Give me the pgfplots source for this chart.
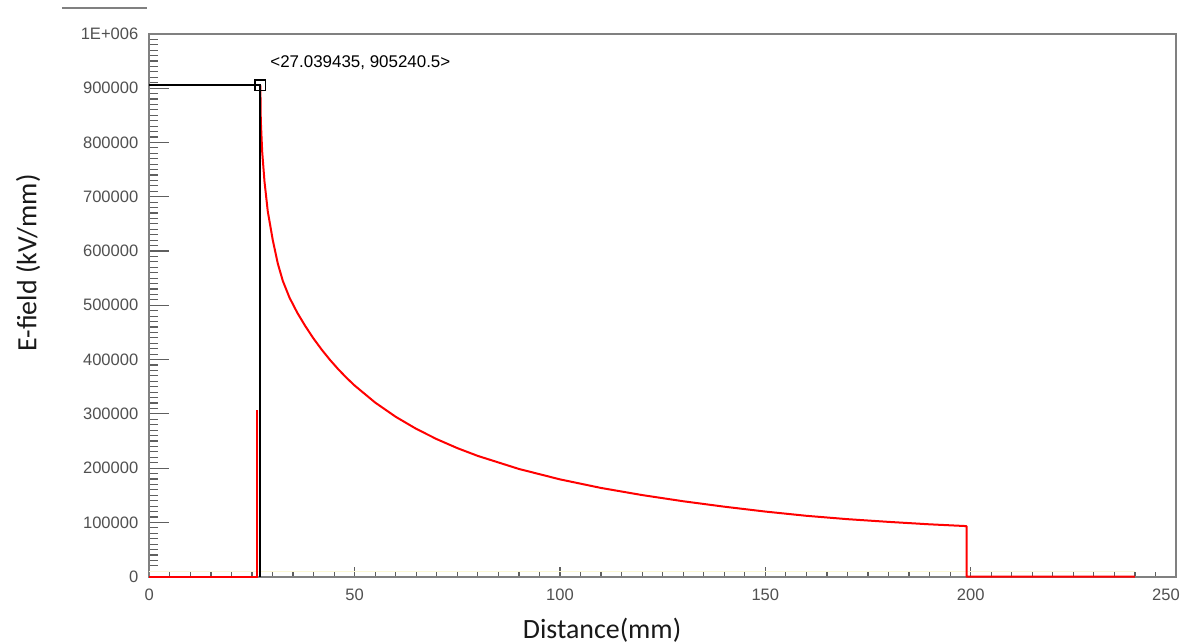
\documentclass[border=0pt]{standalone}
\usepackage{fontspec}
\setmainfont{Liberation Sans}
\newfontfamily\labelfont{Carlito}
\usepackage{pgfplots}
\pgfplotsset{compat=1.18}

\definecolor{framegray}{RGB}{128,128,128}
\definecolor{tickgray}{RGB}{95,95,95}
\definecolor{ticktext}{RGB}{80,80,80}
\definecolor{fieldred}{RGB}{255,0,0}
\definecolor{faintyellow}{RGB}{252,248,212}

% E-field profile along the distance axis
\pgfplotstableread{
x        y
27.04    905240
27.15    840000
27.49    783000
28.05    728000
28.85    673000
30.07    620000
31.29    577000
32.51    545000
34.15    514000
36.00    486800
38.00    461500
40.00    438700
42.00    418100
44.00    399400
46.00    382300
48.00    366600
50.00    352200
55.00    320800
60.00    294600
65.00    272400
70.00    253400
75.00    236900
80.00    222500
90.00    198500
100.00   179300
110.00   163500
120.00   150400
130.00   139000
140.00   129000
150.00   120000
160.00   112200
170.00   106000
180.00   101000
190.00   96500
199.00   93200
199.00   0
240.00   0
}\fieldcurve

\pgfplotstableread{
x       y
0       0
26.2    0
26.2    308000
}\fieldspike

\begin{document}
\begin{tikzpicture}
\begin{axis}[
  scale only axis,
  width=513.35bp, height=271.4bp,
  xmin=0, xmax=250, ymin=0, ymax=1000000,
  scaled x ticks=false, scaled y ticks=false,
  clip=false,
  axis line style={framegray, line width=0.9bp},
  tick align=inside,
  xtick pos=bottom, ytick pos=left,
  xtick={0,50,100,150,200,250},
  xticklabels={0,50,100,150,200,\kern-10bp 250},
  ytick={0,100000,200000,300000,400000,500000,600000,700000,800000,900000,1000000},
  yticklabels={0,100000,200000,300000,400000,500000,600000,700000,800000,900000,1E+006},
  minor x tick num=9, minor y tick num=9,
  tick style={tickgray, line width=0.6bp},
  x tick style={/pgfplots/major tick length=5bp, /pgfplots/minor tick length=2.5bp},
  y tick style={/pgfplots/major tick length=10bp, /pgfplots/minor tick length=4.5bp},
  ticklabel style={font=\fontsize{8.3}{10}\selectfont, text=ticktext},
  xticklabel style={yshift=-2.5bp},
  yticklabel style={xshift=-2bp},
  /pgf/number format/assume math mode=true,
  xlabel={Distance(mm)},
  ylabel={E-field (kV/mm)},
  every axis x label/.style={at={(axis description cs:0.441,-0.1147)}, anchor=base,
    font=\labelfont\fontsize{14}{16}\selectfont, text=black!90},
  every axis y label/.style={at={(axis description cs:-0.110,0.578)}, anchor=base, rotate=90,
    font=\labelfont\fontsize{14}{16}\selectfont, text=black!90},
]
  % faint trace just above the baseline
  \addplot[faintyellow, line width=0.5bp] coordinates {(0,9000) (240,9000)};
  % field magnitude
  \addplot[fieldred, line width=1bp] table[x=x, y=y] {\fieldspike};
  \addplot[fieldred, line width=1bp, line join=round] table[x=x, y=y] {\fieldcurve};
  % cursor at the peak value
  \addplot[black, line width=0.9bp] coordinates {(0,905240) (27.04,905240) (27.04,0)};
  \addplot[black, line width=0.8bp, mark=square, mark size=2.6bp, only marks,
    mark options={fill=none}] coordinates {(27.04,905240)};
  \node[anchor=west, inner sep=0pt, font=\fontsize{8.5}{10}\selectfont, text=black]
    at (axis cs:29.4,947500) {<27.039435, 905240.5>};
\end{axis}
% short rule above the value axis
\draw[framegray, line width=1bp] ([shift={(-43.65bp,284.35bp)}]current axis.south west)
  -- ([shift={(-1.15bp,284.35bp)}]current axis.south west);
\pgfresetboundingbox
\useasboundingbox ([shift={(-74.65bp,-33.15bp)}]current axis.south west)
  rectangle ([shift={(519.35bp,288.35bp)}]current axis.south west);
\end{tikzpicture}
\end{document}
